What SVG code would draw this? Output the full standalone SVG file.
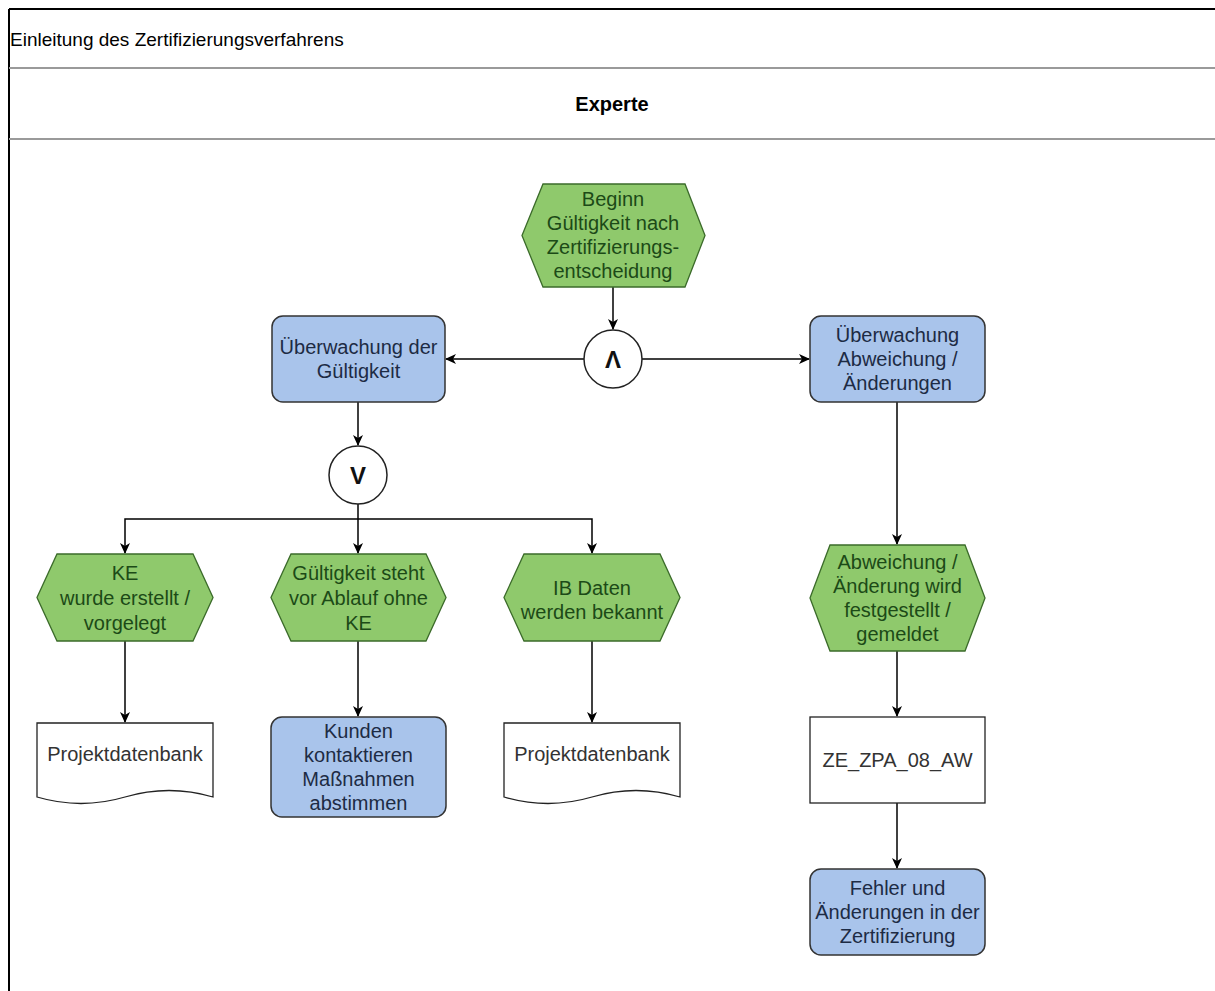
<svg xmlns="http://www.w3.org/2000/svg" width="1215" height="991" viewBox="0 0 1215 991">
<style>
  text { font-family: "Liberation Sans", Arial, sans-serif; font-size: 20px; text-anchor: middle; }
  .title { font-size: 19px; text-anchor: start; fill: #000000; }
  .ev { fill: #8fc96c; stroke: #3b6b2a; stroke-width: 1.3; }
  .evt { fill: #1c4a17; }
  .fn { fill: #a9c4eb; stroke: #333333; stroke-width: 1.5; }
  .fnt { fill: #1d2b44; }
  .doc { fill: #ffffff; stroke: #222222; stroke-width: 1.3; }
  .dt { fill: #333333; }
  .gate { fill: #ffffff; stroke: #222222; stroke-width: 1.5; }
  .gt { font-weight: bold; font-size: 24px; fill: #111111; }
  .edge { fill: none; stroke: #000000; stroke-width: 1.5; }
</style>
<defs>
  <marker id="arr" markerWidth="12" markerHeight="10" refX="10" refY="5" orient="auto" markerUnits="userSpaceOnUse">
    <path d="M0,0 L11,5 L0,10 L3,5 z" fill="#000000"/>
  </marker>
</defs>
<rect x="0" y="0" width="1215" height="991" fill="#ffffff"/>
<g id="pool">
  <line x1="9" y1="9" x2="1215" y2="9" stroke="#000" stroke-width="2"/>
  <line x1="9" y1="9" x2="9" y2="991" stroke="#000" stroke-width="2"/>
  <line x1="9" y1="68" x2="1215" y2="68" stroke="#9a9a9a" stroke-width="2"/>
  <line x1="9" y1="139" x2="1215" y2="139" stroke="#9a9a9a" stroke-width="2"/>
  <text class="title" x="10" y="46">Einleitung des Zertifizierungsverfahrens</text>
  <text x="612" y="111" font-weight="bold" fill="#000">Experte</text>
</g>
<g id="connectors">
  <line class="edge" x1="613" y1="287" x2="613" y2="329" marker-end="url(#arr)"/>
  <line class="edge" x1="584" y1="359" x2="446" y2="359" marker-end="url(#arr)"/>
  <line class="edge" x1="642" y1="359" x2="809" y2="359" marker-end="url(#arr)"/>
  <line class="edge" x1="358" y1="402" x2="358" y2="445" marker-end="url(#arr)"/>
  <path class="edge" d="M358,504 V553" marker-end="url(#arr)"/>
  <path class="edge" d="M358,519 H125 V553" marker-end="url(#arr)"/>
  <path class="edge" d="M358,519 H592 V553" marker-end="url(#arr)"/>
  <line class="edge" x1="125" y1="641" x2="125" y2="722" marker-end="url(#arr)"/>
  <line class="edge" x1="358" y1="641" x2="358" y2="716" marker-end="url(#arr)"/>
  <line class="edge" x1="592" y1="641" x2="592" y2="722" marker-end="url(#arr)"/>
  <line class="edge" x1="897" y1="402" x2="897" y2="544" marker-end="url(#arr)"/>
  <line class="edge" x1="897" y1="651" x2="897" y2="716" marker-end="url(#arr)"/>
  <line class="edge" x1="897" y1="803" x2="897" y2="868" marker-end="url(#arr)"/>
</g>
<g id="ev-beginn">
  <polygon class="ev" points="543,184 685,184 705,235.5 685,287 543,287 522,235.5"/>
  <text class="evt" x="613" y="206">Beginn</text>
  <text class="evt" x="613" y="230">Gültigkeit nach</text>
  <text class="evt" x="613" y="254">Zertifizierungs-</text>
  <text class="evt" x="613" y="278">entscheidung</text>
</g>
<g id="gate-and">
  <circle class="gate" cx="613" cy="359" r="29"/>
  <text class="gt" x="613" y="368">Λ</text>
</g>
<g id="fn-ueberwachung-gueltigkeit">
  <rect class="fn" x="272" y="316" width="173" height="86" rx="11"/>
  <text class="fnt" x="358.5" y="354">Überwachung der</text>
  <text class="fnt" x="358.5" y="378">Gültigkeit</text>
</g>
<g id="fn-ueberwachung-abweichung">
  <rect class="fn" x="810" y="316" width="175" height="86" rx="11"/>
  <text class="fnt" x="897.5" y="342">Überwachung</text>
  <text class="fnt" x="897.5" y="366">Abweichung /</text>
  <text class="fnt" x="897.5" y="390">Änderungen</text>
</g>
<g id="gate-or">
  <circle class="gate" cx="358" cy="475" r="29"/>
  <text class="gt" x="358" y="484">V</text>
</g>
<g id="ev-ke">
  <polygon class="ev" points="57,554 193,554 213,597.5 193,641 57,641 37,597.5"/>
  <text class="evt" x="125" y="580">KE</text>
  <text class="evt" x="125" y="605">wurde erstellt /</text>
  <text class="evt" x="125" y="630">vorgelegt</text>
</g>
<g id="ev-gueltigkeit">
  <polygon class="ev" points="291,554 426,554 446,597.5 426,641 291,641 271,597.5"/>
  <text class="evt" x="358.5" y="580">Gültigkeit steht</text>
  <text class="evt" x="358.5" y="605">vor Ablauf ohne</text>
  <text class="evt" x="358.5" y="630">KE</text>
</g>
<g id="ev-ib">
  <polygon class="ev" points="524,554 660,554 680,597.5 660,641 524,641 504,597.5"/>
  <text class="evt" x="592" y="595">IB Daten</text>
  <text class="evt" x="592" y="619">werden bekannt</text>
</g>
<g id="ev-abweichung">
  <polygon class="ev" points="830,545 965,545 985,598 965,651 830,651 810,598"/>
  <text class="evt" x="897.5" y="569">Abweichung /</text>
  <text class="evt" x="897.5" y="593">Änderung wird</text>
  <text class="evt" x="897.5" y="617">festgestellt /</text>
  <text class="evt" x="897.5" y="641">gemeldet</text>
</g>
<g id="doc-projekt-1">
  <path class="doc" d="M37,723 H213 V797 Q169,784 125,797 Q81,810 37,797 Z"/>
  <text class="dt" x="125" y="761">Projektdatenbank</text>
</g>
<g id="fn-kunden">
  <rect class="fn" x="271" y="717" width="175" height="100" rx="11"/>
  <text class="fnt" x="358.5" y="738">Kunden</text>
  <text class="fnt" x="358.5" y="762">kontaktieren</text>
  <text class="fnt" x="358.5" y="786">Maßnahmen</text>
  <text class="fnt" x="358.5" y="810">abstimmen</text>
</g>
<g id="doc-projekt-2">
  <path class="doc" d="M504,723 H680 V797 Q636,784 592,797 Q548,810 504,797 Z"/>
  <text class="dt" x="592" y="761">Projektdatenbank</text>
</g>
<g id="doc-ze">
  <rect class="doc" x="810" y="717" width="175" height="86"/>
  <text class="dt" x="897.5" y="767">ZE_ZPA_08_AW</text>
</g>
<g id="fn-fehler">
  <rect class="fn" x="810" y="869" width="175" height="86" rx="11"/>
  <text class="fnt" x="897.5" y="895">Fehler und</text>
  <text class="fnt" x="897.5" y="919">Änderungen in der</text>
  <text class="fnt" x="897.5" y="943">Zertifizierung</text>
</g>
</svg>
